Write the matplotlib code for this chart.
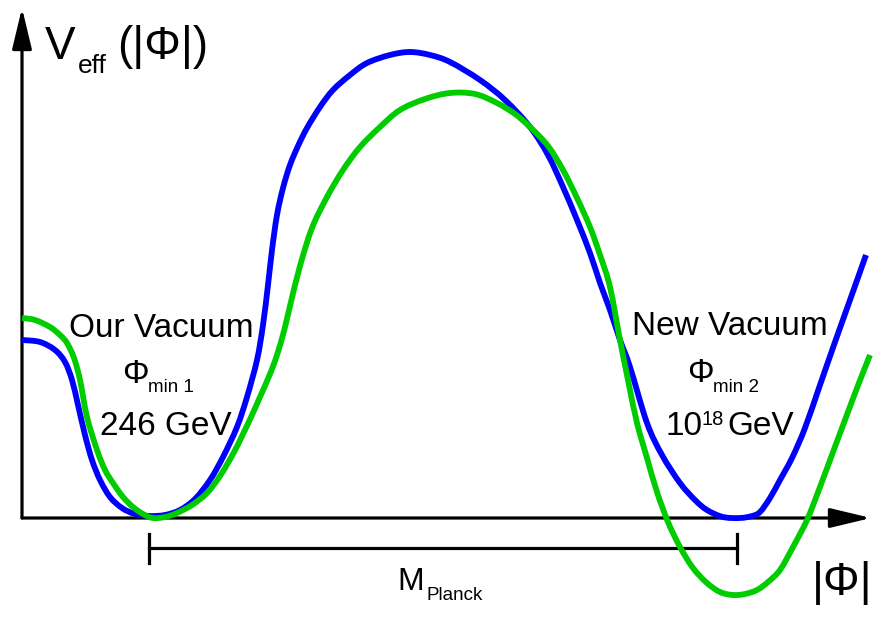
import numpy as np
import matplotlib
matplotlib.use("Agg")
import matplotlib.pyplot as plt
from matplotlib.path import Path
from matplotlib.patches import PathPatch

plt.rcParams['font.family'] = ['Liberation Sans', 'DejaVu Sans']

# field value |phi| (arbitrary units) and potential V_eff
phi_blue = [0, 18, 33, 43, 50, 56, 63, 70, 78, 88, 100, 113, 128, 143, 158, 173, 188,
            201, 215, 225, 235, 241, 246, 250, 255, 261, 268, 276, 285, 298, 311, 328,
            345, 368, 388, 408, 428, 458, 483, 508, 526, 541, 555, 568, 578, 588, 598,
            608, 625, 640, 658, 673, 685, 701, 718, 730, 738, 748, 758, 770, 783, 798,
            813, 828, 844]
v_blue = [178, 176, 168, 156, 138, 113, 83, 58, 38, 21, 10, 4, 2, 3, 8, 19, 38,
          61, 91, 121, 158, 193, 233, 268, 303, 330, 353, 372, 390, 411, 428, 443,
          455, 463, 466, 463, 456, 438, 418, 391, 363, 331, 298, 265, 235, 208, 178,
          151, 95, 63, 35, 18, 8, 1, 0, 2, 6, 20, 38, 60, 90, 133, 176, 218, 263]

phi_green = [0, 13, 28, 38, 45, 52, 58, 65, 75, 83, 91, 101, 111, 121, 131, 143, 155,
             170, 185, 198, 211, 221, 230, 238, 248, 255, 262, 268, 278, 290, 305, 321,
             338, 358, 378, 403, 428, 453, 475, 493, 508, 526, 541, 555, 568, 578,
             588, 598, 606, 615, 625, 635, 646, 658, 671, 685, 698, 711, 723, 735, 746,
             758, 771, 785, 798, 811, 823, 835, 848]
v_green = [200, 198, 191, 183, 175, 160, 138, 101, 68, 48, 35, 21, 11, 4, 0, 1, 5,
           13, 25, 42, 64, 84, 103, 121, 144, 163, 187, 212, 252, 290, 321, 348,
           371, 391, 408, 419, 425, 424, 415, 404, 391, 372, 348, 320, 291, 263,
           231, 178, 138, 95, 60, 26, -4, -29, -50, -65, -74, -77, -76, -72, -64,
           -52, -29, -2, 31, 66, 98, 130, 163]

phi_min1 = 127
phi_min2 = 715


def smooth_path(xs, ys):
    # catmull-rom through the read points, drawn as cubic bezier pieces
    p = np.column_stack([xs, ys]).astype(float)
    pad = np.vstack([p[0], p, p[-1]])
    verts = [p[0]]
    codes = [Path.MOVETO]
    for i in range(1, len(pad) - 2):
        p0, p1, p2, p3 = pad[i - 1], pad[i], pad[i + 1], pad[i + 2]
        verts += [p1 + (p2 - p0) / 6, p2 - (p3 - p1) / 6, p2]
        codes += [Path.CURVE4] * 3
    return Path(verts, codes)


fig = plt.figure(figsize=(8.87, 6.27), dpi=100)
ax = fig.add_axes([0, 0, 1, 1])
ax.set_xlim(-22, 865)
ax.set_ylim(-109, 518)
ax.axis('off')

# axes with arrow heads
arrow = dict(arrowstyle='-|>,head_length=1.25,head_width=0.3', lw=2.3, color='k',
             mutation_scale=20, shrinkA=0, shrinkB=0)
ax.annotate('', xy=(0, 510), xytext=(0, 0), arrowprops=arrow)
ax.annotate('', xy=(849, 0), xytext=(0, 0), arrowprops=arrow)

ax.add_patch(PathPatch(smooth_path(phi_blue, v_blue), fill=False, edgecolor='#0000ff',
                       lw=4.2, capstyle='butt', joinstyle='round', zorder=3))
ax.add_patch(PathPatch(smooth_path(phi_green, v_green), fill=False, edgecolor='#00cc00',
                       lw=4.2, capstyle='butt', joinstyle='round', zorder=4))

# distance between the two minima
ax.plot([phi_min1, phi_min2], [-30, -30], color='k', lw=2.3, zorder=2)
ax.plot([phi_min1, phi_min1], [-16, -45], color='k', lw=2.3, zorder=2)
ax.plot([phi_min2, phi_min2], [-16, -45], color='k', lw=2.3, zorder=2)

# labels
ax.text(23, 459, 'V', fontsize=33, ha='left', va='baseline')
ax.text(56, 445, 'eff', fontsize=19, ha='left', va='baseline')
ax.text(95, 459, '(|Φ|)', fontsize=33, ha='left', va='baseline')
ax.text(790, -77, '|Φ|', fontsize=33, ha='left', va='baseline')

ax.text(375, -72, 'M', fontsize=23, ha='left', va='baseline')
ax.text(405, -82, 'Planck', fontsize=13.5, ha='left', va='baseline')

ax.text(139, 181, 'Our Vacuum', fontsize=24, ha='center', va='baseline')
ax.text(100, 135, 'Φ', fontsize=24, ha='left', va='baseline')
ax.text(126, 126, 'min 1', fontsize=13.5, ha='left', va='baseline')
ax.text(144, 83, '246 GeV', fontsize=24, ha='center', va='baseline')

ax.text(708, 183, 'New Vacuum', fontsize=24, ha='center', va='baseline')
ax.text(665, 136, 'Φ', fontsize=24, ha='left', va='baseline')
ax.text(691, 126, 'min 2', fontsize=13.5, ha='left', va='baseline')
ax.text(644, 83, '10', fontsize=24, ha='left', va='baseline')
ax.text(680, 93, '18', fontsize=14.5, ha='left', va='baseline')
ax.text(705, 83, 'GeV', fontsize=24, ha='left', va='baseline')

fig.savefig('out.png', dpi=100)
